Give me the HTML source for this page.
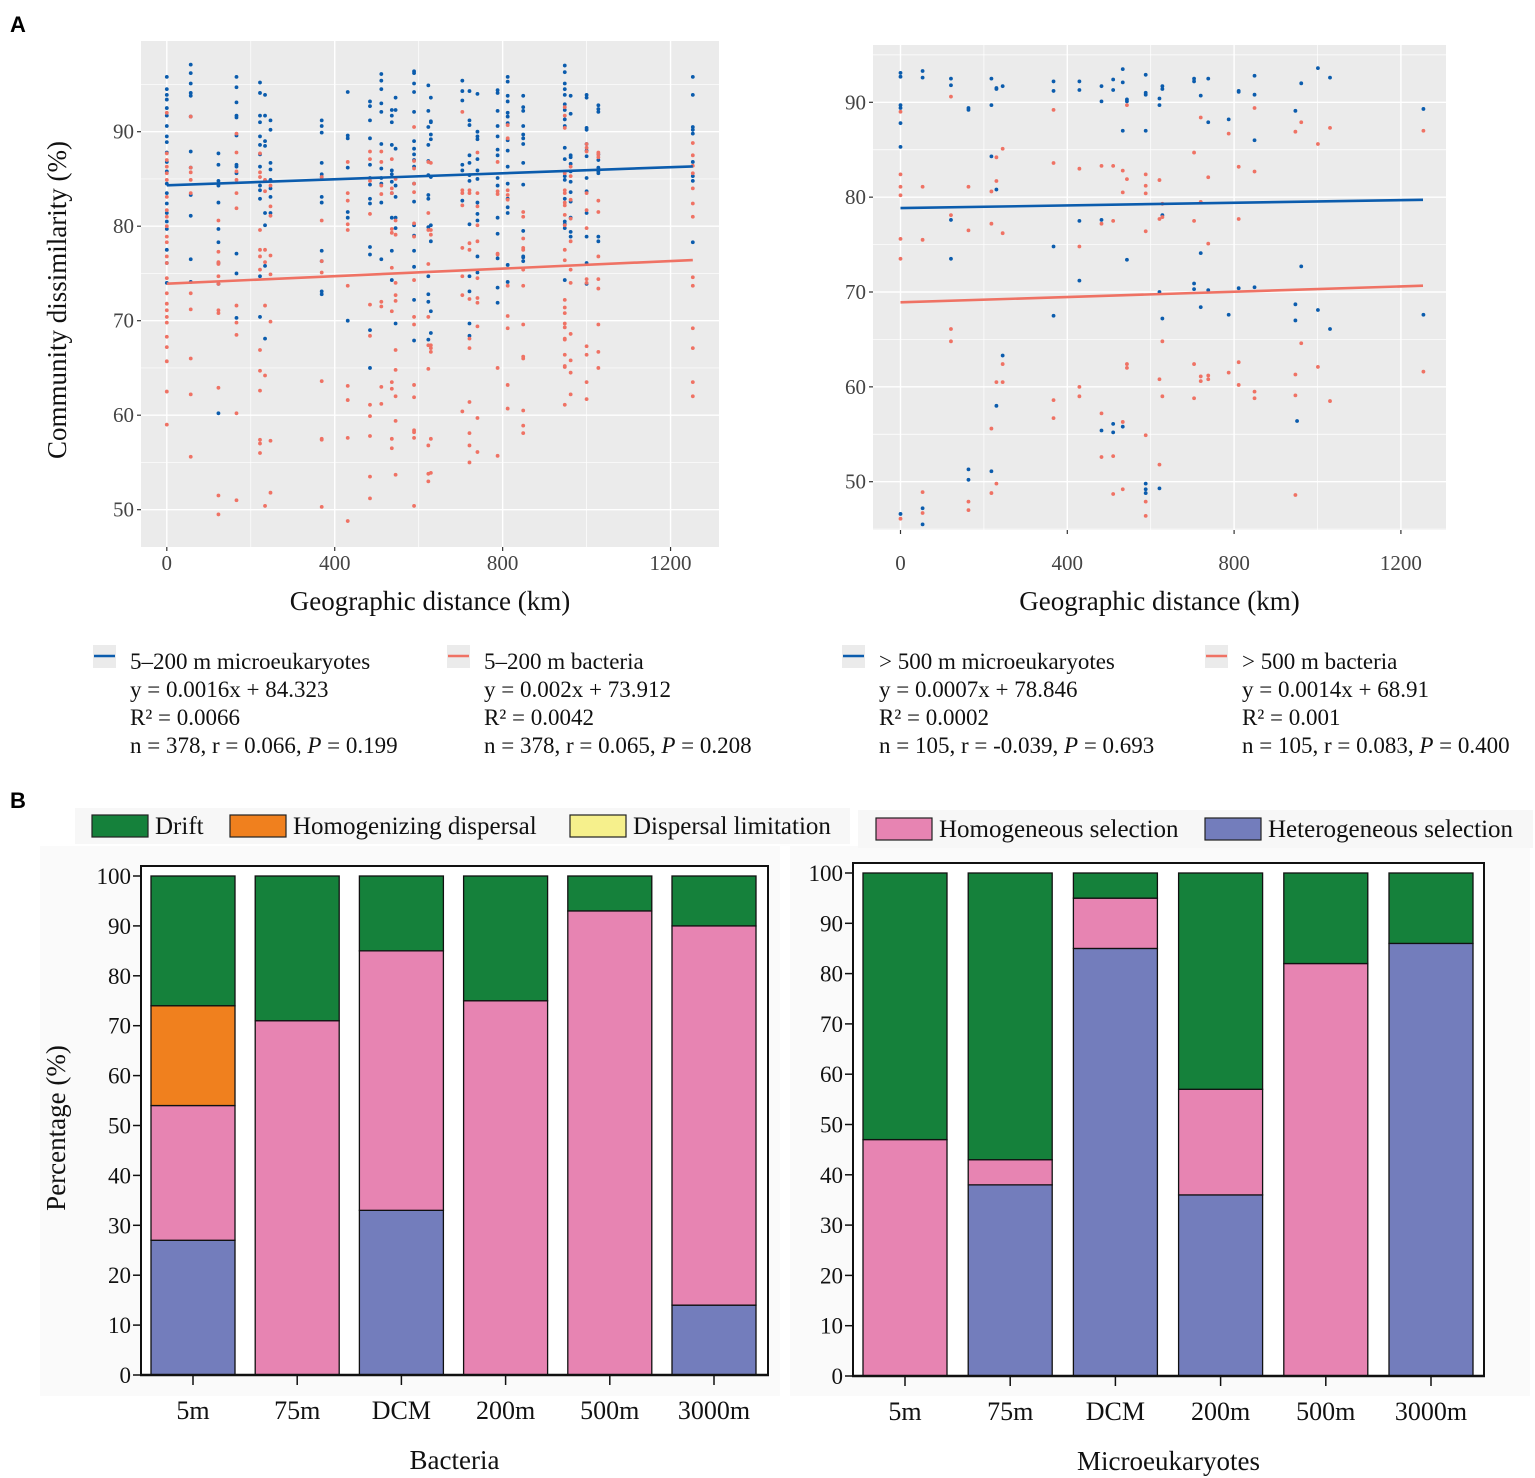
<!DOCTYPE html>
<html><head><meta charset="utf-8"><style>
html,body{margin:0;padding:0;background:#fff;}
svg{display:block;font-family:"Liberation Serif",serif;}
.sans{font-family:"Liberation Sans",sans-serif;}
</style></head><body>
<svg id="fig" width="1535" height="1478" viewBox="0 0 1535 1478" xmlns="http://www.w3.org/2000/svg">
<text class="sans" x="10" y="32" font-size="22" font-weight="bold">A</text>
<text class="sans" x="10" y="808" font-size="22" font-weight="bold">B</text>
<g id="scatterL"></g>
<g id="scatterR"></g>
<g id="legA"></g>
<g id="barsL"></g>
<g id="barsR"></g>
<g id="legB"></g>
</svg>
<script>
// ---------- Scatter data ----------
const leftBlue = [
[0,[95.8,94.5,93.9,93.4,92.5,91.7,90.6,89.5,88.9,87.8,86.8,85.8,84.5,83.5,82.4,81.4,80.5,79.7,77.5,76.1,74.0]],
[57,[97.1,96.2,95.1,94.1,93.8,91.6,87.9,86.2,83.3,81.1,76.5,74.1]],
[123,[87.7,86.5,84.8,84.3,82.5,79.7,78.3,76.1,73.9,60.2]],
[166,[95.8,94.7,93.1,91.7,91.5,89.6,86.5,86.3,85.6,77.1,75.0,70.3]],
[222,[95.2,94.1,91.7,91.0,89.5,88.6,87.6,86.3,84.3,83.8,82.9,74.7,70.4]],
[234,[93.9,91.7,89.0,88.5,84.8,81.4,80.1,75.8,68.1]],
[247,[91.2,90.2,86.7,86.0,84.9,84.0,83.1,81.4]],
[369,[91.2,90.6,89.9,86.7,85.5,85.2,83.1,82.5,77.4,76.3,73.1,72.8]],
[431,[94.2,89.6,89.3,86.2,81.5,80.9,70.0]],
[484,[93.2,92.7,91.2,89.3,86.5,85.1,84.4,82.9,82.4,77.8,77.0,69.0,65.0]],
[511,[96.1,95.4,94.5,93.0,92.1,88.7,86.1,85.1,84.5,82.5,76.5]],
[536,[92.3,91.7,91.0,88.6,85.9,85.5,84.7,83.5,80.9,77.4,74.3]],
[545,[93.6,92.3,88.2,84.3,83.1,80.9,79.8,69.7]],
[589,[96.4,96.2,95.1,94.2,92.1,89.0,88.2,87.6,87.0,86.3,84.5,82.6,80.1,79.0,77.4,75.7,72.2,67.9]],
[623,[94.9,92.2,90.5,88.6,86.9,85.4,83.3,82.9,79.9,74.7,72.8,72.0,68.0]],
[629,[93.6,91.1,91.0,89.7,89.2,85.2,80.1,78.4,71.0,68.7]],
[704,[95.4,94.3,93.3,86.5,85.9,82.7]],
[721,[94.3,91.2,90.7,87.5,86.7,85.4,84.8,80.2,74.7,73.1,69.7,68.4]],
[740,[94.0,90.0,89.5,89.2,87.1,85.9,85.0,82.5,81.3,80.6,76.8,75.1]],
[788,[94.4,94.1,92.2,90.6,89.5,88.1,87.5,85.1,84.3,80.9,79.2,76.6,73.5,71.9]],
[812,[95.8,95.3,93.8,93.2,92.0,91.6,90.9,89.1,88.0,86.3,84.5,82.9,82.0,81.4,75.9,74.1]],
[849,[93.8,92.6,92.2,90.6,89.7,89.3,88.7,86.7,84.4,79.5,76.8,76.7,76.3]],
[948,[97.0,96.3,95.1,94.5,93.9,92.9,92.3,91.3,90.6,88.3,87.1,85.3,84.9,82.9,80.5,80.2,79.8,74.3]],
[962,[93.8,91.9,87.5,87.3,86.6,85.8,84.7,83.6,82.6,80.9,79.4,78.9]],
[1000,[93.9,93.6,90.4,90.2,88.7,88.0,87.4,85.1,83.7,81.4,78.9,76.1,73.9]],
[1028,[92.8,92.4,92.1,87.6,87.0,86.2,85.8,85.6,78.9,78.4]],
[1253,[95.8,93.9,90.5,90.2,89.8,86.8,85.3,84.8,78.3]]
];
const leftRed = [
[0,[92.0,87.7,87.0,86.3,85.6,84.9,83.1,81.7,81.0,80.0,78.9,78.3,76.8,76.1,74.5,72.9,71.8,71.1,70.4,69.8,68.3,67.2,65.7,62.5,59.0]],
[57,[91.6,86.2,85.7,84.9,83.5,72.9,71.2,66.0,62.2,55.6]],
[123,[80.6,77.3,76.2,76.0,74.7,73.9,71.1,70.8,62.9,51.5,49.5]],
[166,[89.8,87.8,85.8,84.9,83.5,81.9,71.6,69.8,68.5,60.2,51.0]],
[222,[87.7,85.7,85.2,79.6,77.5,76.8,75.4,66.9,64.7,62.6,57.4,57.0,56.0]],
[234,[84.9,83.7,77.5,76.2,71.6,64.2,50.4]],
[247,[84.3,82.1,81.1,76.9,74.9,69.9,57.3,51.8]],
[369,[85.2,80.6,76.3,75.1,63.6,57.4,57.5,50.3]],
[431,[86.8,83.5,82.7,80.2,79.6,73.7,63.1,61.6,57.6,48.8]],
[484,[87.9,87.1,84.8,81.3,71.7,68.4,61.1,59.9,57.8,53.5,51.2]],
[511,[87.9,86.8,84.3,83.4,72.0,71.5,63.0,61.2]],
[536,[87.1,84.0,83.5,79.7,79.3,75.6,71.0,63.5,62.8,57.5,56.5]],
[545,[85.0,80.6,79.1,74.0,72.7,72.1,66.9,64.8,62.0,59.4,53.7]],
[589,[90.5,86.9,86.1,84.5,83.6,80.3,78.9,74.3,70.4,69.6,63.2,61.9,58.4,58.2,57.6,50.4]],
[623,[86.8,81.4,79.6,76.0,70.4,67.4,64.9,56.8,53.8,53.0]],
[629,[86.7,79.6,79.1,67.4,67.1,66.7,57.5,53.9]],
[704,[92.1,83.8,83.5,82.2,77.7,74.7,72.7,60.4]],
[721,[83.8,83.5,78.2,77.5,72.3,68.1,67.1,61.4,58.1,56.8,55.0]],
[740,[87.8,83.5,82.1,80.1,78.4,74.5,72.4,71.9,69.4,59.7,56.1]],
[788,[86.8,83.7,83.4,77.1,77.0,65.0,55.7]],
[812,[90.7,89.3,83.8,83.3,82.8,73.7,70.5,69.2,63.2,60.7]],
[849,[81.5,81.0,78.7,77.7,77.5,75.4,73.7,69.6,66.2,66.0,60.5,58.9,58.1]],
[948,[92.6,91.7,90.4,85.6,83.8,83.5,82.5,82.2,81.2,80.1,77.5,76.4,72.2,71.4,70.8,69.7,69.3,68.1,68.0,66.4,65.2,65.1,61.1]],
[962,[86.3,85.3,82.8,80.8,78.4,75.4,74.0,68.6,65.8,64.5,62.2]],
[1000,[88.7,88.3,87.9,83.5,81.7,79.8,74.4,74.0,67.3,66.4,63.5,61.7]],
[1028,[87.8,87.6,87.3,82.7,81.5,76.8,74.4,73.4,69.6,66.7,65.0]],
[1253,[88.8,87.5,86.4,85.6,84.0,82.4,81.0,74.6,73.7,69.2,67.1,63.5,62.0]]
];
const rightBlue = [
[0,[93.1,92.7,89.7,89.4,87.8,85.3,46.6]],[53,[93.3,92.6,47.2,45.5]],[121,[92.5,91.8,77.6,73.5]],
[163,[89.4,89.2,51.3,50.2]],[218,[92.5,89.7,84.3,51.1]],[230,[91.5,91.4,80.8,58.0]],[245,[91.7,63.3]],
[367,[92.2,91.2,74.8,67.5]],[429,[92.2,91.3,77.5,71.2]],[482,[91.7,90.1,77.6,55.4]],[510,[92.4,91.3,56.1,55.2]],
[533,[93.5,92.1,87.0,55.8]],[543,[90.3,90.1,73.4]],[588,[92.9,91.0,90.8,87.0,49.8,49.2,48.8]],
[621,[90.4,89.7,70.0,49.3]],[628,[91.7,91.4,78.1,67.2]],[704,[92.5,92.2,70.9,70.3]],[720,[90.7,74.1,68.4]],
[738,[92.5,87.9,70.2]],[787,[88.2,67.6]],[811,[91.2,91.1,70.4]],[849,[92.8,90.8,86.0,70.5]],
[947,[89.1,68.7,67.0]],[951,[56.4]],[961,[92.0,72.7]],[1001,[93.6,68.1]],[1030,[92.6,66.1]],[1254,[89.3,67.6]]
];
const rightRed = [
[0,[89.0,82.4,81.1,80.2,75.6,73.5,46.1]],[53,[81.1,75.5,48.9,46.7]],[121,[90.6,78.1,66.1,64.8]],
[163,[81.1,76.5,47.9,47.0]],[218,[80.6,77.2,55.6,48.8]],[230,[84.2,81.7,60.5,49.8]],[245,[85.1,76.2,62.4,60.5]],
[367,[89.2,83.6,58.6,56.7]],[429,[83.0,74.8,60.0,59.0]],[482,[83.3,77.2,57.2,52.6]],[510,[83.3,77.5,52.7,48.7]],
[533,[82.8,80.5,56.3,49.2]],[543,[89.7,81.9,62.4,62.0]],[588,[82.4,81.2,80.4,76.4,54.9,47.9,46.4]],
[621,[81.8,77.7,60.8,51.8]],[628,[79.3,77.9,64.8,59.0]],[704,[84.7,77.5,62.4,58.8]],[720,[88.4,79.5,61.1,60.6]],
[738,[82.1,75.1,61.2,60.8]],[787,[86.7,61.5]],[811,[83.2,77.7,62.6,60.2]],[849,[89.4,82.7,59.5,58.8]],
[947,[86.9,61.3,59.1,48.6]],[961,[87.9,64.6]],[1001,[85.6,62.1]],[1030,[87.3,58.5]],[1254,[87.0,61.6]]
];
const xTicks = [0,400,800,1200];
const yTicks = [50,60,70,80,90];
const fitLeftBlue = [0.0016,84.323];
const fitLeftRed = [0.002,73.912];
const fitRightBlue = [0.0007,78.846];
const fitRightRed = [0.0014,68.91];
const fitMaxKm = 1253;

// ---------- Bar data ----------
const categories = ["5m","75m","DCM","200m","500m","3000m"];
const bactHet = [27,0,33,0,0,14];
const bactHom = [27,71,52,75,93,76];
const bactHomDisp = [20,0,0,0,0,0];
const bactDispLim = [0,0,0,0,0,0];
const bactDrift = [26,29,15,25,7,10];
const microHet = [0,38,85,36,0,86];
const microHom = [47,5,10,21,82,0];
const microHomDisp = [0,0,0,0,0,0];
const microDispLim = [0,0,0,0,0,0];
const microDrift = [53,57,5,43,18,14];
const barTicks = [0,10,20,30,40,50,60,70,80,90,100];

const NS="http://www.w3.org/2000/svg";
function mk(parent,tag,attrs,text){const e=document.createElementNS(NS,tag);for(const k in attrs)e.setAttribute(k,attrs[k]);if(text!==undefined)e.textContent=text;parent.appendChild(e);return e;}

const BLUE="#0b5cad", RED="#ef7264";

function scatter(gid,cfg,blue,red,fb,fr){
  const g=document.getElementById(gid);
  const X=km=>cfg.x0+km*cfg.kx, Y=v=>cfg.y90+(90-v)*cfg.ky;
  const bg=mk(g,'rect',{x:cfg.bx,y:cfg.by,width:cfg.bw,height:cfg.bh,fill:'#ebebeb'});
  
  
  for(let km=-200;km<=1400;km+=200){const x=X(km);if(x>cfg.bx&&x<cfg.bx+cfg.bw&&km%400!==0){const l=mk(g,'line',{x1:x,x2:x,y1:cfg.by,y2:cfg.by+cfg.bh,stroke:'#fff','stroke-width':0.7});}}
  for(let v=40;v<=100;v+=5){const y=Y(v);if(y>cfg.by&&y<cfg.by+cfg.bh&&v%10!==0){const l=mk(g,'line',{x1:cfg.bx,x2:cfg.bx+cfg.bw,y1:y,y2:y,stroke:'#fff','stroke-width':0.7});}}
  xTicks.forEach(t=>{const x=X(t);
    const l=mk(g,'line',{x1:x,x2:x,y1:cfg.by,y2:cfg.by+cfg.bh,stroke:'#fff','stroke-width':1.4});
    const tk=mk(g,'line',{x1:x,x2:x,y1:cfg.by+cfg.bh,y2:cfg.by+cfg.bh+4,stroke:'#333','stroke-width':1.2});
    const tl=mk(g,'text',{x:x,y:570,'font-size':21,fill:'#444','text-anchor':'middle'},String(t));});
  yTicks.forEach(t=>{const y=Y(t);
    const l=mk(g,'line',{x1:cfg.bx,x2:cfg.bx+cfg.bw,y1:y,y2:y,stroke:'#fff','stroke-width':1.4});
    const tk=mk(g,'line',{x1:cfg.bx-4,x2:cfg.bx,y1:y,y2:y,stroke:'#333','stroke-width':1.2});
    const tl=mk(g,'text',{x:cfg.bx-7,y:y+7,'font-size':21,fill:'#444','text-anchor':'end'},String(t));});
  const drawPts=(data,col,name)=>data.forEach(([km,vals])=>vals.forEach(v=>{const c=mk(g,'circle',{cx:X(km),cy:Y(v),r:1.9,fill:col});}));
  drawPts(blue,BLUE,'point-microeukaryotes');
  drawPts(red,RED,'point-bacteria');
  const fl=(f,col,name)=>{const l=mk(g,'line',{x1:X(0),y1:Y(f[1]),x2:X(fitMaxKm),y2:Y(f[1]+f[0]*fitMaxKm),stroke:col,'stroke-width':2.6});};
  fl(fb,BLUE,'fit-line-microeukaryotes');
  fl(fr,RED,'fit-line-bacteria');
  const xt=mk(g,'text',{x:cfg.bx+cfg.bw/2,y:610,'font-size':27,'text-anchor':'middle',fill:'#111'},'Geographic distance (km)');
  
}
scatter('scatterL',{x0:166.8,kx:0.4198,y90:131.7,ky:9.45,bx:141,by:41,bw:578,bh:506},leftBlue,leftRed,fitLeftBlue,fitLeftRed);
scatter('scatterR',{x0:900.5,kx:0.417,y90:102.3,ky:9.485,bx:873,by:45,bw:573,bh:485},rightBlue,rightRed,fitRightBlue,fitRightRed);
{const g=document.getElementById('scatterL');const t=mk(g,'text',{x:0,y:0,'font-size':27,'text-anchor':'middle',fill:'#111',transform:'translate(66,300) rotate(-90)'},'Community dissimilarity (%)');}

// ---------- Legend A ----------
const legAItems=[
 {x:93,col:BLUE,lines:["5–200 m  microeukaryotes","y = 0.0016x + 84.323","R² = 0.0066","n = 378, r = 0.066, |P| = 0.199"]},
 {x:447,col:RED,lines:["5–200 m bacteria","y = 0.002x + 73.912","R² = 0.0042","n = 378, r = 0.065, |P| = 0.208"]},
 {x:842,col:BLUE,lines:["> 500 m microeukaryotes","y = 0.0007x + 78.846","R² = 0.0002","n = 105, r = -0.039, |P| = 0.693"]},
 {x:1205,col:RED,lines:["> 500 m   bacteria","y = 0.0014x + 68.91","R² = 0.001","n = 105, r = 0.083, |P| = 0.400"]}
];
{const g=document.getElementById('legA');
legAItems.forEach(it=>{
  const k=mk(g,'g',{});
  mk(k,'rect',{x:it.x,y:645,width:23,height:23,fill:'#ebebeb'});
  mk(k,'line',{x1:it.x+1,x2:it.x+22,y1:656,y2:656,stroke:it.col,'stroke-width':2.4});
  it.lines.forEach((s,i)=>{const t=mk(k,'text',{x:it.x+37,y:669+28*i,'font-size':23,fill:'#111'});
    const parts=s.split('|');parts.forEach((p,j)=>{const sp=mk(t,'tspan',{},p);if(j===1)sp.setAttribute('font-style','italic');});});
});}

// ---------- Legend B ----------
{const g=document.getElementById('legB');
mk(g,'rect',{x:75,y:808,width:775,height:36,fill:'#f7f7f7'});
mk(g,'rect',{x:858,y:810,width:675,height:38,fill:'#f7f7f7'});
const items=[["Drift","#15813b",92,815],["Homogenizing dispersal","#f0801e",230,815],["Dispersal limitation","#f6f08c",570,815],["Homogeneous selection","#e784b2",876,818],["Heterogeneous selection","#737dbc",1205,818]];
items.forEach(([n,c,x,y])=>{const e=mk(g,'g',{});
  mk(e,'rect',{x:x,y:y,width:56,height:22,fill:c,stroke:'#222','stroke-width':1.2});
  mk(e,'text',{x:x+63,y:y+19,'font-size':25,fill:'#111'},n);});}

// ---------- Bars ----------
function bars(gid,cfg,series,title){
  const g=document.getElementById(gid);
  const Y=v=>cfg.y0-v*cfg.ky;
  mk(g,'rect',{x:cfg.gx,y:cfg.gy,width:cfg.gw,height:cfg.gh,fill:'#fafafa'});
  const fr=mk(g,'rect',{x:cfg.fx,y:cfg.fy,width:cfg.fw,height:cfg.y0-cfg.fy,fill:'#fff',stroke:'#111','stroke-width':2});
  
  barTicks.forEach(t=>{const y=Y(t);
    const tk=mk(g,'line',{x1:cfg.fx-8,x2:cfg.fx,y1:y,y2:y,stroke:'#111','stroke-width':1.5});
    const tl=mk(g,'text',{x:cfg.fx-10,y:y+8,'font-size':23,'text-anchor':'end',fill:'#111'},String(t));});
  categories.forEach((c,i)=>{const cx=cfg.c0+i*cfg.step;let base=0;
    series.forEach(([vals,col,name])=>{const v=vals[i];if(v>0){const r=mk(g,'rect',{x:cx-cfg.bw/2,y:Y(base+v),width:cfg.bw,height:v*cfg.ky,fill:col,stroke:'#111','stroke-width':1.3});
      }base+=v;});
    const tk=mk(g,'line',{x1:cx,x2:cx,y1:cfg.y0,y2:cfg.y0+10,stroke:'#111','stroke-width':1.5});
    const tl=mk(g,'text',{x:cx,y:cfg.y0+44,'font-size':26,'text-anchor':'middle',fill:'#111'},c);});
  mk(g,'line',{x1:cfg.fx-1,x2:cfg.fx+cfg.fw+1,y1:cfg.y0,y2:cfg.y0,stroke:'#111','stroke-width':2.5});
  const tt=mk(g,'text',{x:cfg.fx+cfg.fw/2,y:cfg.y0+94,'font-size':27,'text-anchor':'middle',fill:'#111'},title);
  
}
bars('barsL',{y0:1375,ky:4.99,fx:141,fy:866,fw:627,c0:193,step:104.2,bw:84,gx:40,gy:846,gw:740,gh:550},
 [[bactHet,'#737dbc','heterogeneous-selection'],[bactHom,'#e784b2','homogeneous-selection'],[bactHomDisp,'#f0801e','homogenizing-dispersal'],[bactDispLim,'#f6f08c','dispersal-limitation'],[bactDrift,'#15813b','drift']],'Bacteria');
bars('barsR',{y0:1376,ky:5.03,fx:853,fy:863,fw:631,c0:905,step:105.2,bw:84,gx:790,gy:846,gw:740,gh:550},
 [[microHet,'#737dbc','heterogeneous-selection'],[microHom,'#e784b2','homogeneous-selection'],[microHomDisp,'#f0801e','homogenizing-dispersal'],[microDispLim,'#f6f08c','dispersal-limitation'],[microDrift,'#15813b','drift']],'Microeukaryotes');
{const g=document.getElementById('barsL');const t=mk(g,'text',{x:0,y:0,'font-size':27,'text-anchor':'middle',fill:'#111',transform:'translate(65,1128) rotate(-90)'},'Percentage (%)');}
</script>
</body></html>
